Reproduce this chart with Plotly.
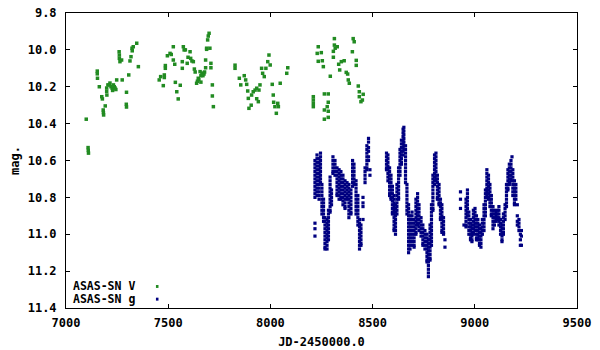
import plotly.graph_objects as go

# ASAS-SN V band (green)
v_jd = [7099, 7108, 7109, 7110, 7153, 7153, 7154, 7163, 7175, 7178, 7182, 7183, 7184, 7192,
        7199, 7199, 7200, 7205, 7212, 7215, 7220, 7226, 7228, 7232, 7236, 7240, 7244, 7248,
        7260, 7261, 7261, 7264, 7272, 7275, 7295, 7296, 7296, 7307, 7313, 7318, 7323, 7324,
        7329, 7346, 7354,
        7456, 7463, 7476, 7481, 7481, 7486, 7486, 7496, 7509, 7515, 7525, 7525, 7532, 7535,
        7542, 7549, 7559, 7569, 7569, 7574, 7578, 7584, 7593, 7597, 7607, 7610, 7616, 7623,
        7628, 7632, 7639, 7643, 7647, 7650, 7656, 7660, 7660, 7665, 7669, 7670, 7675, 7678,
        7683, 7683, 7688, 7688, 7693, 7696, 7700, 7704, 7709, 7709, 7716, 7716, 7721,
        7827, 7827, 7848, 7855, 7872, 7879, 7884, 7889, 7892, 7895, 7906, 7908, 7916, 7925,
        7933, 7933, 7941, 7944, 7949, 7957, 7962, 7970, 7978, 7987, 7993, 7999, 8009, 8014,
        8016, 8022, 8029, 8036, 8039, 8048, 8080, 8085,
        8210, 8210, 8210, 8210, 8234, 8229, 8234, 8249, 8254, 8259, 8264, 8264, 8264, 8278,
        8283, 8283, 8283, 8283, 8293, 8308, 8308, 8313, 8313, 8317, 8327, 8334, 8339, 8347,
        8361, 8371, 8378, 8381, 8386, 8401, 8405, 8410, 8420, 8420, 8430, 8435, 8435, 8443,
        8450, 8454]
v_mag = [10.376, 10.530, 10.545, 10.560, 10.115, 10.130, 10.154, 10.200, 10.254, 10.266, 10.326, 10.340, 10.353, 10.304,
         10.207, 10.225, 10.245, 10.190, 10.190, 10.180, 10.200, 10.208, 10.220, 10.190, 10.200, 10.207, 10.215, 10.163,
         10.010, 10.028, 10.046, 10.064, 10.055, 10.163, 10.295, 10.230, 10.310, 10.136, 10.060, 10.037, 9.991, 10.005,
         9.983, 9.964, 10.091,
         10.163, 10.145, 10.194, 10.136, 10.150, 10.100, 10.085, 10.032, 10.019, 10.025, 9.983, 10.055, 10.078, 10.176,
         10.227, 10.266, 10.192, 10.064, 10.100, 9.983, 10.000, 10.000, 10.073, 10.040, 10.010, 10.046, 10.060, 10.064,
         10.104, 10.120, 10.181, 10.170, 10.154, 10.160, 10.118, 10.140, 10.175, 10.127, 10.127, 10.140, 10.131, 10.120,
         10.055, 10.097, 9.997, 9.991, 9.946, 9.925, 9.910, 9.991, 10.073, 10.097, 10.190, 10.250, 10.308,
         10.083, 10.100, 10.154, 10.190, 10.140, 10.163, 10.187, 10.223, 10.263, 10.317, 10.300, 10.245, 10.227, 10.218,
         10.208, 10.265, 10.281, 10.218, 10.190, 10.100, 10.127, 10.145, 10.100, 10.064, 10.028, 10.082, 10.187, 10.245,
         10.284, 10.308, 10.344, 10.290, 10.308, 10.181, 10.127, 10.097,
         10.254, 10.272, 10.290, 10.308, 9.983, 10.019, 10.062, 10.015, 10.059, 10.091, 10.239, 10.326, 10.376, 10.308,
         10.239, 10.284, 10.333, 10.366, 10.143, 10.008, 10.040, 9.939, 9.974, 9.991, 9.983, 10.078, 10.109, 10.064,
         10.059, 10.122, 10.131, 10.163, 10.181, 10.010, 9.939, 9.956, 10.057, 10.084, 10.196, 10.227, 10.254, 10.281,
         10.272, 10.241]

# ASAS-SN g band (navy): observation dates and the magnitudes measured around each date
g_jd = [8218, 8228, 8238, 8245, 8252, 8260, 8267, 8277, 8284, 8292, 8299, 8306, 8316, 8326, 8336, 8345,
        8355, 8365, 8375, 8384, 8394, 8402, 8409, 8419, 8428, 8436, 8443, 8453, 8463, 8472, 8480, 8487,
        8568, 8575, 8583, 8590, 8597, 8605, 8612, 8619, 8627, 8634, 8641, 8649, 8653, 8661, 8668, 8676,
        8683, 8693, 8703, 8712, 8720, 8727, 8737, 8746, 8756, 8766, 8773, 8781, 8788, 8795, 8803, 8810,
        8817, 8825, 8832, 8839, 8847, 8854,
        8930, 8947, 8957, 8964, 8971, 8979, 8986, 8993, 9001, 9008, 9015, 9023, 9030, 9037, 9045, 9052,
        9059, 9067, 9074, 9081, 9089, 9096, 9104, 9111, 9118, 9126, 9133, 9140, 9148, 9155, 9162, 9169,
        9177, 9182, 9186, 9194, 9201, 9208, 9216, 9223, 9228]
g_mag = [
    [10.60, 10.62, 10.64, 10.66, 10.68, 10.70, 10.72, 10.74, 10.76, 10.78, 10.80, 10.94, 10.97, 11.01],
    [10.57, 10.59, 10.61, 10.63, 10.65, 10.67, 10.69, 10.71, 10.73, 10.75, 10.77, 10.79],
    [10.59, 10.61, 10.63, 10.65, 10.67, 10.69, 10.71, 10.73, 10.75, 10.77, 10.79, 10.81],
    [10.56, 10.58, 10.60, 10.62, 10.64, 10.66, 10.68, 10.70, 10.72],
    [10.73, 10.75, 10.77, 10.79, 10.81, 10.83, 10.85, 10.87, 10.89],
    [10.81, 10.83, 10.85, 10.87, 10.89, 10.91, 10.93],
    [10.91, 10.93, 10.95, 10.97, 10.99, 11.01, 11.03, 11.05, 11.07, 11.08],
    [10.92, 10.94, 10.96, 10.98, 11.00, 11.02, 11.04, 11.06, 11.08],
    [10.87, 10.89, 10.91, 10.93, 10.95, 10.97, 10.99, 11.01, 11.03],
    [10.69, 10.71, 10.73, 10.75, 10.77, 10.79, 10.81, 10.83, 10.85, 10.87, 10.88],
    [10.76, 10.78, 10.80, 10.82, 10.84],
    [10.58, 10.60, 10.62, 10.64, 10.66, 10.67],
    [10.60, 10.62, 10.64, 10.66, 10.68],
    [10.64, 10.66, 10.68, 10.70, 10.72, 10.74, 10.76, 10.78, 10.79],
    [10.65, 10.67, 10.69, 10.71, 10.73, 10.75, 10.77, 10.79, 10.81],
    [10.66, 10.68, 10.70, 10.72, 10.74, 10.76, 10.78, 10.80, 10.81],
    [10.68, 10.70, 10.72, 10.74, 10.76, 10.78, 10.80, 10.82, 10.84],
    [10.71, 10.73, 10.75, 10.77, 10.79, 10.81, 10.83, 10.85, 10.86],
    [10.72, 10.74, 10.76, 10.78, 10.80, 10.81],
    [10.73, 10.75, 10.77, 10.79, 10.81, 10.83, 10.85, 10.87, 10.89, 10.91],
    [10.76, 10.78, 10.80, 10.82, 10.84, 10.86, 10.88, 10.89],
    [10.60, 10.62, 10.64, 10.66, 10.68, 10.70, 10.72, 10.74],
    [10.62, 10.64, 10.66, 10.68, 10.70, 10.72, 10.73],
    [10.71, 10.73, 10.75, 10.77, 10.79, 10.81, 10.83, 10.85, 10.87, 10.89],
    [10.79, 10.81, 10.83, 10.85, 10.87, 10.89, 10.91, 10.93, 10.95],
    [10.92, 10.94, 10.96, 10.98, 11.00, 11.02, 11.04, 11.06, 11.08],
    [10.95, 10.97, 10.99, 11.01, 11.03, 11.05, 11.06],
    [10.80, 10.83, 10.85, 10.92],
    [10.64, 10.66, 10.68, 10.70, 10.72],
    [10.52, 10.54, 10.56, 10.58, 10.60, 10.62, 10.64, 10.65],
    [10.48, 10.50, 10.53, 10.55, 10.58, 10.60],
    [10.65, 10.68],
    [10.56, 10.58, 10.60, 10.62, 10.64, 10.65],
    [10.57, 10.59, 10.61, 10.63, 10.65, 10.67, 10.69, 10.71],
    [10.64, 10.66, 10.68, 10.70, 10.72, 10.74, 10.76, 10.78, 10.79],
    [10.68, 10.70, 10.72, 10.74, 10.76, 10.78, 10.80, 10.81],
    [10.74, 10.76, 10.78, 10.80, 10.82, 10.84, 10.86, 10.88, 10.89],
    [10.79, 10.81, 10.83, 10.85, 10.87, 10.89, 10.91, 10.93, 10.95, 10.97, 10.98],
    [10.84, 10.86, 10.88, 10.90, 10.92, 10.94, 10.96, 10.98, 11.00],
    [10.73, 10.75, 10.77, 10.79, 10.81, 10.83, 10.85, 10.87, 10.89],
    [10.64, 10.66, 10.68, 10.70, 10.72, 10.74, 10.76, 10.78, 10.80, 10.81],
    [10.54, 10.56, 10.58, 10.60, 10.62, 10.64, 10.66, 10.68],
    [10.49, 10.51, 10.53, 10.55, 10.57, 10.59, 10.61, 10.62],
    [10.43, 10.45, 10.47, 10.49, 10.51, 10.53, 10.55, 10.57],
    [10.42, 10.44, 10.46, 10.48, 10.50, 10.52, 10.54],
    [10.52, 10.54, 10.56, 10.58, 10.60, 10.62, 10.64, 10.66, 10.68, 10.70, 10.72],
    [10.73, 10.75, 10.77, 10.79, 10.81, 10.83, 10.85, 10.87, 10.89],
    [10.84, 10.86, 10.88, 10.90, 10.92, 10.94, 10.96, 10.98, 11.00, 11.02, 11.04, 11.06, 11.08, 11.10],
    [10.90, 10.92, 10.94, 10.96, 10.98, 11.00, 11.02, 11.04, 11.06, 11.08],
    [10.88, 10.90, 10.92, 10.94, 10.96, 10.98, 11.00, 11.02, 11.04, 11.06],
    [10.92, 10.94, 10.96, 10.98, 11.00, 11.02, 11.04, 11.06, 11.07],
    [10.81, 10.83, 10.85, 10.87, 10.89, 10.91, 10.93, 10.95, 10.97, 10.99, 11.00],
    [10.78, 10.80, 10.82, 10.84, 10.86, 10.88, 10.90, 10.92, 10.94, 10.95],
    [10.84, 10.86, 10.88, 10.90, 10.92, 10.94, 10.96, 10.98],
    [10.91, 10.93, 10.95, 10.97, 10.99, 11.01],
    [10.95, 10.97, 10.99, 11.01, 11.03, 11.05, 11.06],
    [10.98, 11.00, 11.02, 11.04, 11.06, 11.08],
    [11.00, 11.02, 11.04, 11.06, 11.08, 11.10, 11.12, 11.14, 11.15],
    [11.03, 11.05, 11.07, 11.09, 11.11, 11.13, 11.15, 11.17, 11.19, 11.21, 11.23],
    [10.95, 10.97, 10.99, 11.01, 11.03, 11.05, 11.07, 11.09, 11.11, 11.13, 11.14],
    [10.84, 10.86, 10.88, 10.90, 10.92, 10.94, 10.96, 10.98, 11.00, 11.02, 11.04, 11.06],
    [10.68, 10.70, 10.72, 10.74, 10.76, 10.78, 10.80, 10.82, 10.84, 10.86, 10.87],
    [10.57, 10.59, 10.61, 10.63, 10.65, 10.67, 10.69, 10.71, 10.73],
    [10.56, 10.58, 10.60, 10.62, 10.64, 10.66, 10.68, 10.70, 10.71],
    [10.68, 10.70, 10.72, 10.74, 10.76, 10.78, 10.80, 10.81],
    [10.73, 10.75, 10.77, 10.79, 10.81, 10.83, 10.84],
    [10.81, 10.83, 10.85, 10.87, 10.89, 10.91, 10.92],
    [10.84, 10.86, 10.88, 10.90, 10.92, 10.94, 10.96, 10.98, 10.99],
    [10.91, 10.93, 10.95, 10.97, 10.99, 11.00],
    [11.03, 11.07],
    [10.77, 10.81, 10.86],
    [10.95],
    [10.81, 10.83, 10.85, 10.87, 10.89, 10.91, 10.93, 10.95, 10.96],
    [10.76, 10.78, 10.80, 10.82, 10.84, 10.86, 10.88, 10.90],
    [10.88, 10.90, 10.92, 10.94, 10.96, 10.98, 11.00],
    [10.92, 10.94, 10.96, 10.98, 11.00, 11.02, 11.03],
    [10.95, 10.97, 10.99, 11.01, 11.03, 11.04],
    [10.87, 10.89, 10.91, 10.93, 10.95, 10.97, 10.99, 11.00],
    [10.86, 10.88, 10.90, 10.92, 10.94, 10.96, 10.98],
    [10.90, 10.92, 10.94, 10.96, 10.98, 11.00, 11.02, 11.03],
    [10.92, 10.94, 10.96, 10.98, 11.00, 11.02, 11.03],
    [10.95, 10.97, 10.99, 11.01, 11.03, 11.05, 11.06],
    [10.97, 10.99, 11.01, 11.03, 11.05, 11.07],
    [10.92, 10.94, 10.96, 10.98, 11.00],
    [10.84, 10.86, 10.88, 10.90, 10.92, 10.94, 10.96, 10.98],
    [10.76, 10.78, 10.80, 10.82, 10.84, 10.86, 10.88, 10.90],
    [10.65, 10.67, 10.69, 10.71, 10.73, 10.75, 10.77, 10.79],
    [10.68, 10.70, 10.72, 10.74, 10.76, 10.78, 10.80, 10.81],
    [10.73, 10.75, 10.77, 10.79, 10.81, 10.83, 10.85],
    [10.79, 10.81, 10.83, 10.85, 10.87, 10.89, 10.90],
    [10.85, 10.87, 10.89, 10.91, 10.93, 10.95, 10.97],
    [10.87, 10.89, 10.91, 10.93, 10.95],
    [10.88, 10.90, 10.92, 10.93],
    [10.87, 10.89, 10.91, 10.92],
    [10.85, 10.87, 10.89, 10.91, 10.93, 10.95],
    [10.92, 10.94, 10.96, 10.98, 11.00],
    [10.95, 10.97, 10.99, 11.01, 11.03, 11.04],
    [10.89, 10.91, 10.93, 10.95, 10.97, 10.99, 11.00],
    [10.84, 10.86, 10.88, 10.90, 10.92],
    [10.73, 10.75, 10.77, 10.79, 10.81, 10.83, 10.85],
    [10.65, 10.67, 10.69, 10.71, 10.73, 10.75, 10.76],
    [10.62, 10.64, 10.66, 10.68, 10.70, 10.72, 10.73],
    [10.60, 10.62, 10.64, 10.66, 10.68, 10.70, 10.71],
    [10.58],
    [10.65, 10.67, 10.69, 10.71, 10.73, 10.75, 10.77, 10.79],
    [10.71, 10.73, 10.75, 10.77, 10.79, 10.81, 10.83, 10.84],
    [10.73, 10.75, 10.77, 10.79, 10.81],
    [10.84, 10.90, 10.93, 10.95],
    [10.92, 10.94, 10.96, 10.98],
    [11.00, 11.03, 11.06],
    [10.98, 11.01, 11.06],
]

x_ticks = [7000, 7500, 8000, 8500, 9000, 9500]
y_ticks = [9.8, 10.0, 10.2, 10.4, 10.6, 10.8, 11.0, 11.2, 11.4]

assert len(v_jd) == len(v_mag)
assert len(g_jd) == len(g_mag)

gx, gy = [], []
for jd, mags in zip(g_jd, g_mag):
    for m in mags:
        gx.append(jd)
        gy.append(m)

GREEN = "#228B22"
NAVY = "#000080"
FONT = dict(family="DejaVu Sans Mono", size=12, color="black", weight="bold")
KEYFONT = dict(family="DejaVu Sans Mono", size=11.5, color="black", weight="bold")

fig = go.Figure()
fig.add_trace(go.Scatter(x=v_jd, y=v_mag, mode="markers", name="ASAS-SN V",
                         marker=dict(symbol="square", size=3.5, color=GREEN, line=dict(width=0)),
                         showlegend=False))
fig.add_trace(go.Scatter(x=gx, y=gy, mode="markers", name="ASAS-SN g",
                         marker=dict(symbol="square", size=3.2, color=NAVY, line=dict(width=0)),
                         showlegend=False))

axis_common = dict(showline=True, linecolor="black", linewidth=1, mirror="ticks",
                   ticks="inside", ticklen=4, tickcolor="black", showgrid=False,
                   zeroline=False, tickfont=FONT, automargin=False)

fig.update_xaxes(range=[7000, 9500], tickvals=x_ticks, ticktext=[str(t) for t in x_ticks],
                 ticklabelstandoff=4,
                 title=dict(text="JD-2450000.0", font=FONT, standoff=8), **axis_common)
fig.update_yaxes(range=[11.4, 9.8], tickvals=y_ticks, ticktext=[f"{t:.1f}" for t in y_ticks],
                 ticklabelstandoff=6,
                 title=dict(text="mag.", font=FONT, standoff=5), **axis_common)

# gnuplot-style key: label on the left, sample on the right
key = [("ASAS-SN V", GREEN, 0.073), ("ASAS-SN g", NAVY, 0.030)]
for label, col, yp in key:
    fig.add_annotation(xref="paper", yref="paper", x=0.012, y=yp, text=label,
                       showarrow=False, xanchor="left", yanchor="middle", font=KEYFONT,
                       borderpad=0)
    fig.add_shape(type="rect", xref="paper", yref="paper",
                  x0=0.176, x1=0.181, y0=yp - 0.005, y1=yp + 0.005,
                  fillcolor=col, line=dict(width=0))

fig.update_layout(width=600, height=350, margin=dict(l=66, r=23, t=13, b=42),
                  plot_bgcolor="white", paper_bgcolor="white", font=FONT)

fig.write_html("out.html", config={"displayModeBar": False},
               post_script="document.body.style.margin='0';")
